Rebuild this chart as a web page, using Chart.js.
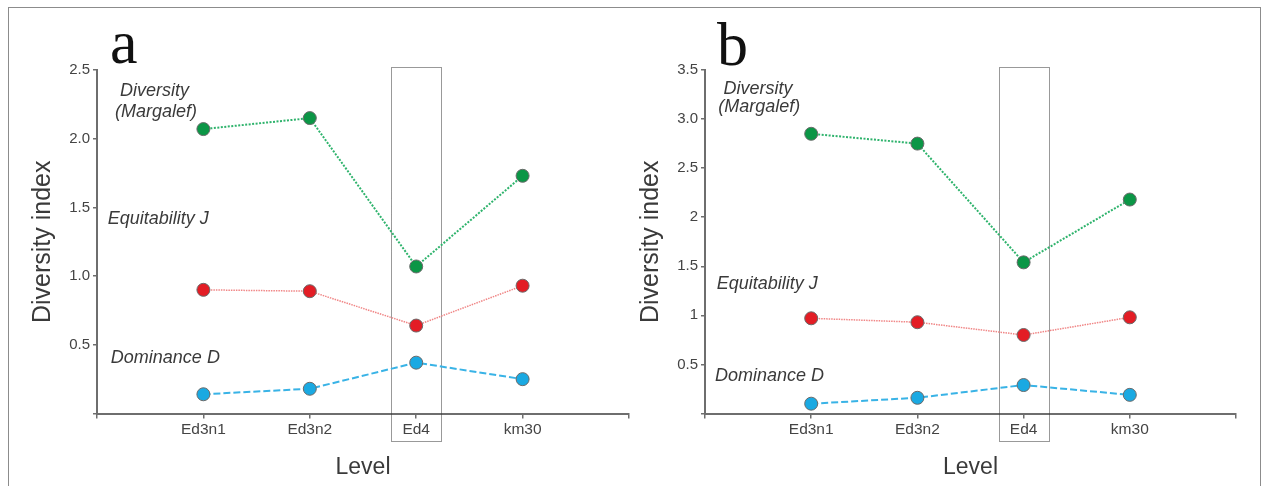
<!DOCTYPE html>
<html>
<head>
<meta charset="utf-8">
<script src="https://cdn.jsdelivr.net/npm/chart.js@4/dist/chart.umd.min.js"></script>
<style>
  html, body { margin:0; padding:0; background:#fff; overflow:hidden; }
  body { width:1263px; height:486px; position:relative; }
  #frame { position:absolute; left:8px; top:7px; width:1253px; height:520px; border:1px solid #8c8c8c; box-sizing:border-box; }
  canvas { position:absolute; top:0; }
  #ca { left:0; }
  #cb { left:608px; }
</style>
</head>
<body>
<div id="frame"></div>
<canvas id="ca" width="640" height="486"></canvas>
<canvas id="cb" width="655" height="486"></canvas>
<script>
// ---- data ----
const levels = ['Ed3n1', 'Ed3n2', 'Ed4', 'km30'];

const diversityA = [2.07, 2.15, 1.07, 1.73];
const equitabilityA = [0.90, 0.89, 0.64, 0.93];
const dominanceA = [0.14, 0.18, 0.37, 0.25];

const diversityB = [2.85, 2.75, 1.54, 2.18];
const equitabilityB = [0.97, 0.93, 0.80, 0.98];
const dominanceB = [0.10, 0.16, 0.29, 0.19];

const yTickLabelsA = ['0.5', '1.0', '1.5', '2.0', '2.5'];
const yTickLabelsB = ['0.5', '1', '1.5', '2', '2.5', '3.0', '3.5'];

const highlightLevel = 'Ed4';

// ---- helpers ----
const AXIS = '#6e6e6e';
const TXT = '#3a3a3a';

function pts(vals) { return vals.map((v, i) => ({ x: i + 1, y: v })); }

const decor = {
  id: 'decor',
  beforeDatasetsDraw(chart, args, o) {
    const { ctx, chartArea, scales } = chart;
    const xi = levels.indexOf(o.highlight) + 1;
    const cx = Math.round(scales.x.getPixelForValue(xi));
    ctx.save();
    ctx.strokeStyle = '#333';
    ctx.lineWidth = 1;
    ctx.setLineDash([1, 1]);
    ctx.strokeRect(cx - 25 + 0.5, Math.round(chartArea.top - 3.5) + 0.5, 50, Math.round(chartArea.bottom - chartArea.top + 30));
    ctx.restore();
  },
  afterDraw(chart, args, o) {
    const { ctx, chartArea, scales } = chart;
    ctx.save();
    ctx.fillStyle = '#111';
    ctx.font = '62px "Liberation Serif", "DejaVu Serif", serif';
    ctx.textBaseline = 'alphabetic';
    ctx.textAlign = 'left';
    ctx.fillText(o.letter, chartArea.left + o.letterDx, chartArea.top + o.letterDy);
    ctx.fillStyle = TXT;
    ctx.font = 'italic 18px "Liberation Sans", Arial, sans-serif';
    ctx.textBaseline = 'middle';
    for (const t of o.notes) {
      ctx.textAlign = t.align;
      ctx.fillText(t.text, scales.x.getPixelForValue(t.x), scales.y.getPixelForValue(t.y));
    }
    ctx.restore();
  }
};

function makeChart(id, div, eq, dom, yMax, yLabels, letter, letterDx, letterDy, notes, rightPad) {
  const ds = (label, vals, line, fill, dash, w) => ({
    label, data: pts(vals),
    borderColor: line, borderWidth: w, borderDash: dash,
    pointBackgroundColor: fill, pointBorderColor: '#6a6a6a', pointBorderWidth: 1,
    pointRadius: 6.5, pointHoverRadius: 6.5, tension: 0, fill: false
  });
  return new Chart(document.getElementById(id), {
    type: 'line',
    data: {
      datasets: [
        ds('Diversity (Margalef)', div, '#2eb36c', '#0b9646', [2, 1.5], 2),
        ds('Equitability J', eq, '#f08686', '#e31d25', [1.5, 1], 1.5),
        ds('Dominance D', dom, '#39b3e6', '#1aa9e2', [7, 3], 2)
      ]
    },
    options: {
      responsive: false,
      animation: false,
      layout: { padding: { left: 0, right: rightPad, top: 70, bottom: 0 } },
      plugins: {
        legend: { display: false },
        tooltip: { enabled: false },
        decor: { letter, letterDx, letterDy, notes, highlight: highlightLevel }
      },
      scales: {
        x: {
          type: 'linear', min: 0, max: levels.length + 1,
          afterFit(s) { s.height = 72.5; },
          border: { display: true, color: AXIS, width: 2 },
          grid: { drawOnChartArea: false, drawTicks: true, tickLength: 5, color: AXIS, lineWidth: 1.5 },
          ticks: {
            stepSize: 1, autoSkip: false, maxRotation: 0, padding: 2,
            color: '#444', font: { family: '"Liberation Sans", Arial, sans-serif', size: 15.5 },
            callback: v => levels[v - 1] || ''
          },
          title: {
            display: true, text: 'Level', color: TXT,
            font: { family: '"Liberation Sans", Arial, sans-serif', size: 23 },
            padding: { top: 0, bottom: 4.5 }
          }
        },
        y: {
          min: 0, max: yMax,
          afterFit(s) { s.width = 97; },
          border: { display: true, color: AXIS, width: 2 },
          grid: { drawOnChartArea: false, drawTicks: true, tickLength: 4, color: AXIS, lineWidth: 1.5 },
          ticks: {
            stepSize: 0.5, padding: 3,
            color: '#444', font: { family: '"Liberation Sans", Arial, sans-serif', size: 15 },
            callback: v => { const i = Math.round(v / 0.5) - 1; return i >= 0 ? (yLabels[i] || '') : ''; }
          },
          title: {
            display: true, text: 'Diversity index', color: TXT,
            font: { family: '"Liberation Sans", Arial, sans-serif', size: 25 },
            padding: { top: 28, bottom: 0 }
          }
        }
      }
    },
    plugins: [decor]
  });
}

makeChart('ca', diversityA, equitabilityA, dominanceA, 2.5, yTickLabelsA, 'a', 13, -7, [
  { text: 'Diversity', x: 0.54, y: 2.346, align: 'center' },
  { text: '(Margalef)', x: 0.555, y: 2.196, align: 'center' },
  { text: 'Equitability J', x: 0.10, y: 1.418, align: 'left' },
  { text: 'Dominance D', x: 0.13, y: 0.404, align: 'left' }
], 11);

makeChart('cb', diversityB, equitabilityB, dominanceB, 3.5, yTickLabelsB, 'b', 12, -5, [
  { text: 'Diversity', x: 0.50, y: 3.306, align: 'center' },
  { text: '(Margalef)', x: 0.51, y: 3.122, align: 'center' },
  { text: 'Equitability J', x: 0.11, y: 1.316, align: 'left' },
  { text: 'Dominance D', x: 0.094, y: 0.378, align: 'left' }
], 27);
</script>
</body>
</html>
